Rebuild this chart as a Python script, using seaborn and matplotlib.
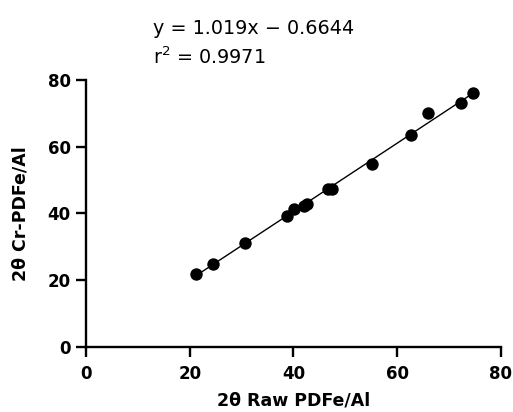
import numpy as np
import pandas as pd
import matplotlib
matplotlib.use("Agg")
import matplotlib.pyplot as plt
import seaborn as sns

# Data
raw_2theta = [21.2, 24.4, 30.6, 38.7, 40.1, 42.0, 42.6, 46.7, 47.5, 55.2, 62.7, 66.0, 72.3, 74.6]
cr_2theta = [21.9, 24.9, 31.1, 39.3, 41.2, 42.3, 42.8, 47.2, 47.4, 54.9, 63.4, 70.1, 73.0, 76.1]
eq_text = "y = 1.019x \u2212 0.6644"
r2_text = "r$^2$ = 0.9971"
ticks = [0, 20, 40, 60, 80]

df = pd.DataFrame({"raw": raw_2theta, "cr": cr_2theta})

sns.set_style("ticks")
plt.rcParams['font.family'] = ['DejaVu Sans']
plt.rcParams['text.color'] = 'black'
plt.rcParams['axes.labelcolor'] = 'black'
plt.rcParams['xtick.color'] = 'black'
plt.rcParams['ytick.color'] = 'black'
plt.rcParams['axes.edgecolor'] = 'black'

fig = plt.figure(figsize=(5.13, 4.12), dpi=100)
ax = fig.add_axes([0.1676, 0.1578, 0.809, 0.648])

sns.regplot(data=df, x="raw", y="cr", ci=None, truncate=True, ax=ax,
            scatter_kws={"s": 80, "color": "black", "alpha": 1, "linewidths": 0, "zorder": 3},
            line_kws={"color": "black", "linewidth": 1})

ax.set_xlim(0, 80)
ax.set_ylim(0, 80)
ax.set_xticks(ticks)
ax.set_yticks(ticks)
sns.despine(ax=ax)
for s in ["left", "bottom"]:
    ax.spines[s].set_linewidth(1.7)
ax.tick_params(width=1.7, length=7, labelsize=12, direction="out")
ax.tick_params(axis="x", pad=6)
ax.tick_params(axis="y", pad=4)
for lab in ax.get_xticklabels() + ax.get_yticklabels():
    lab.set_fontweight("bold")

ax.set_xlabel("2\u03b8 Raw PDFe/Al", fontsize=12.5, fontweight="bold", labelpad=6)
ax.set_ylabel("2\u03b8 Cr-PDFe/Al", fontsize=12.5, fontweight="bold", labelpad=13)

fig.text(0.298, 0.932, eq_text, fontsize=13.8, ha="left", va="center")
fig.text(0.298, 0.862, r2_text, fontsize=13.8, ha="left", va="center")

fig.savefig("out.png", dpi=100)
